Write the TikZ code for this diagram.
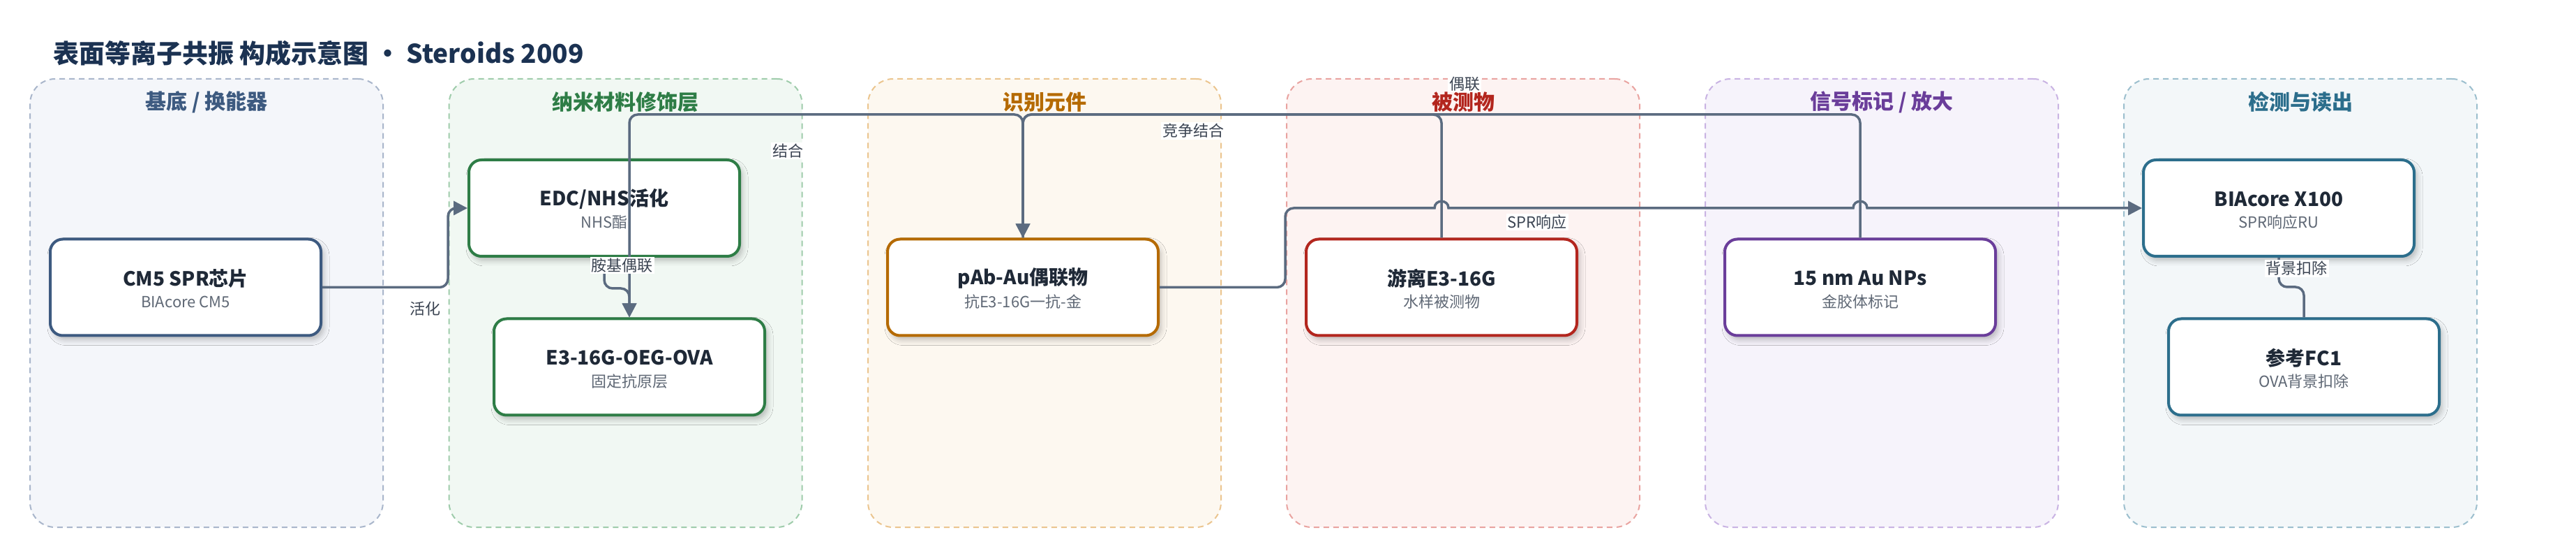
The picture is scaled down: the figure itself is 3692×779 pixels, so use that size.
\documentclass[tikz,border=0pt]{standalone}
\usepackage{fontspec}
\setmainfont{Noto Sans CJK SC}
\usetikzlibrary{arrows.meta,shadows.blur}
\definecolor{cA}{HTML}{3D5A80}\definecolor{fA}{HTML}{F4F6FA}\definecolor{bA}{HTML}{A9B6CB}
\definecolor{cB}{HTML}{2E7D46}\definecolor{fB}{HTML}{F1F8F3}\definecolor{bB}{HTML}{9FCCAB}
\definecolor{cC}{HTML}{B56A00}\definecolor{fC}{HTML}{FDF8F0}\definecolor{bC}{HTML}{EBC58F}
\definecolor{cD}{HTML}{B3261E}\definecolor{fD}{HTML}{FDF3F2}\definecolor{bD}{HTML}{E9A3A0}
\definecolor{cE}{HTML}{6A3D9A}\definecolor{fE}{HTML}{F6F3FB}\definecolor{bE}{HTML}{C9B3E3}
\definecolor{cF}{HTML}{2C6E8C}\definecolor{fF}{HTML}{F3F7F9}\definecolor{bF}{HTML}{9CBFCE}
\definecolor{linec}{HTML}{5B6B80}
\definecolor{titlec}{HTML}{1B3252}
\definecolor{nodet}{HTML}{1F2937}
\definecolor{subc}{HTML}{5F6875}
\definecolor{lblc}{HTML}{3B4452}
\tikzset{
  lane/.style={draw, line width=1pt, dash pattern=on 4pt off 3pt, rounded corners=18pt,
    minimum width=253pt, minimum height=321pt, inner sep=0pt},
  lanetitle/.style={font=\bfseries\fontsize{15}{18}\selectfont, inner sep=0pt},
  box/.style={fill=white, line width=2pt, rounded corners=9pt, minimum width=194pt,
    minimum height=69pt, inner sep=0pt,
    blur shadow={shadow xshift=2pt, shadow yshift=-3pt, shadow opacity=25, shadow blur radius=4pt}},
  ttl/.style={font=\bfseries\fontsize{14}{16}\selectfont, text=nodet, inner sep=0pt},
  subt/.style={font=\fontsize{11}{13}\selectfont, text=subc, inner sep=0pt},
  conn/.style={draw=linec, line width=1.75pt, rounded corners=6pt},
  arr/.style={-{Triangle[length=10pt,width=10pt]}},
  lbl/.style={fill=white, text=lblc, font=\fontsize{11}{13}\selectfont, inner sep=1pt}
}
\newcommand{\mybox}[6]{%
  \node[box, draw=#4] (#1) at (#2,#3) {};
  \node[ttl] (#1t) at (#2,#3-13) {#5};
  \node[subt] (#1s) at (#2,#3+20.5) {#6};
}
\begin{document}
\begin{tikzpicture}[x=0.5pt,y=-0.5pt]
\useasboundingbox (0,0) rectangle (3692,779);
\fill[white] (0,0) rectangle (3692,779);

\node[anchor=west, font=\bfseries\fontsize{18.5}{22}\selectfont, text=titlec, inner sep=0pt] (title) at (76,76) {表面等离子共振 构成示意图 · Steroids 2009};

% lanes
\node[lane, draw=bA, fill=fA] (lane1) at (296,434) {};
\node[lane, draw=bB, fill=fB] (lane2) at (896.5,434) {};
\node[lane, draw=bC, fill=fC] (lane3) at (1497,434) {};
\node[lane, draw=bD, fill=fD] (lane4) at (2097,434) {};
\node[lane, draw=bE, fill=fE] (lane5) at (2697,434) {};
\node[lane, draw=bF, fill=fF] (lane6) at (3297,434) {};
\node[lanetitle, text=cA] (lt1) at (296,146) {基底 / 换能器};
\node[lanetitle, text=cB] (lt2) at (896.5,146) {纳米材料修饰层};
\node[lanetitle, text=cC] (lt3) at (1497,146) {识别元件};
\node[lanetitle, text=cD] (lt4) at (2097,146) {被测物};
\node[lanetitle, text=cE] (lt5) at (2697,146) {信号标记 / 放大};
\node[lanetitle, text=cF] (lt6) at (3297,146) {检测与读出};

% boxes
\mybox{cm5}{266}{411.5}{cA}{CM5 SPR芯片}{BIAcore CM5}
\mybox{edc}{866}{298}{cB}{EDC/NHS活化}{NHS酯}
\mybox{ova}{902}{525.5}{cB}{E3-16G-OEG-OVA}{固定抗原层}
\mybox{pab}{1466}{411.5}{cC}{pAb-Au偶联物}{抗E3-16G一抗-金}
\mybox{free}{2066}{411.5}{cD}{游离E3-16G}{水样被测物}
\mybox{au}{2666}{411.5}{cE}{15 nm Au NPs}{金胶体标记}
\mybox{bia}{3266}{298}{cF}{BIAcore X100}{SPR响应RU}
\mybox{fc1}{3302}{525.5}{cF}{参考FC1}{OVA背景扣除}

% connectors
\draw[conn, arr] (cm5.east) -- (642,411.5) -- (642,298) -- (edc.west);
\draw[conn, arr] (edc.south) -- (866,413) -- (902,413) -- (ova.north);
\draw[conn, arr] (pab.north) -- (1466,164) -- (902,164) -- (ova.north);
\draw[conn, arr] (free.north) -- (2066,164) -- (1466,164) -- (pab.north);
\draw[conn, arr] (au.north) -- (2666,164) -- (1466,164) -- (pab.north);
\draw[conn, arr] (pab.east) -- (1842,411.5) -- (1842,298) -- (1950,298) [sharp corners]
   -- (2056,298) .. controls (2056,285) and (2076,285) .. (2076,298)
   -- (2656,298) .. controls (2656,285) and (2676,285) .. (2676,298)
   -- (bia.west);
\draw[conn] (bia.south) -- (3266,411) -- (3302,411) -- (fc1.north);

% labels
\node[lbl] (l1) at (609,442) {活化};
\node[lbl] (l2) at (891.5,380) {胺基偶联};
\node[lbl] (l3) at (1129,216) {结合};
\node[lbl] (l4) at (1710,187.5) {竞争结合};
\node[lbl] (l5) at (2099,120) {偶联};
\node[lbl] (l6) at (2203,318) {SPR响应};
\node[lbl] (l7) at (3291.5,384.5) {背景扣除};
\end{tikzpicture}
\end{document}
